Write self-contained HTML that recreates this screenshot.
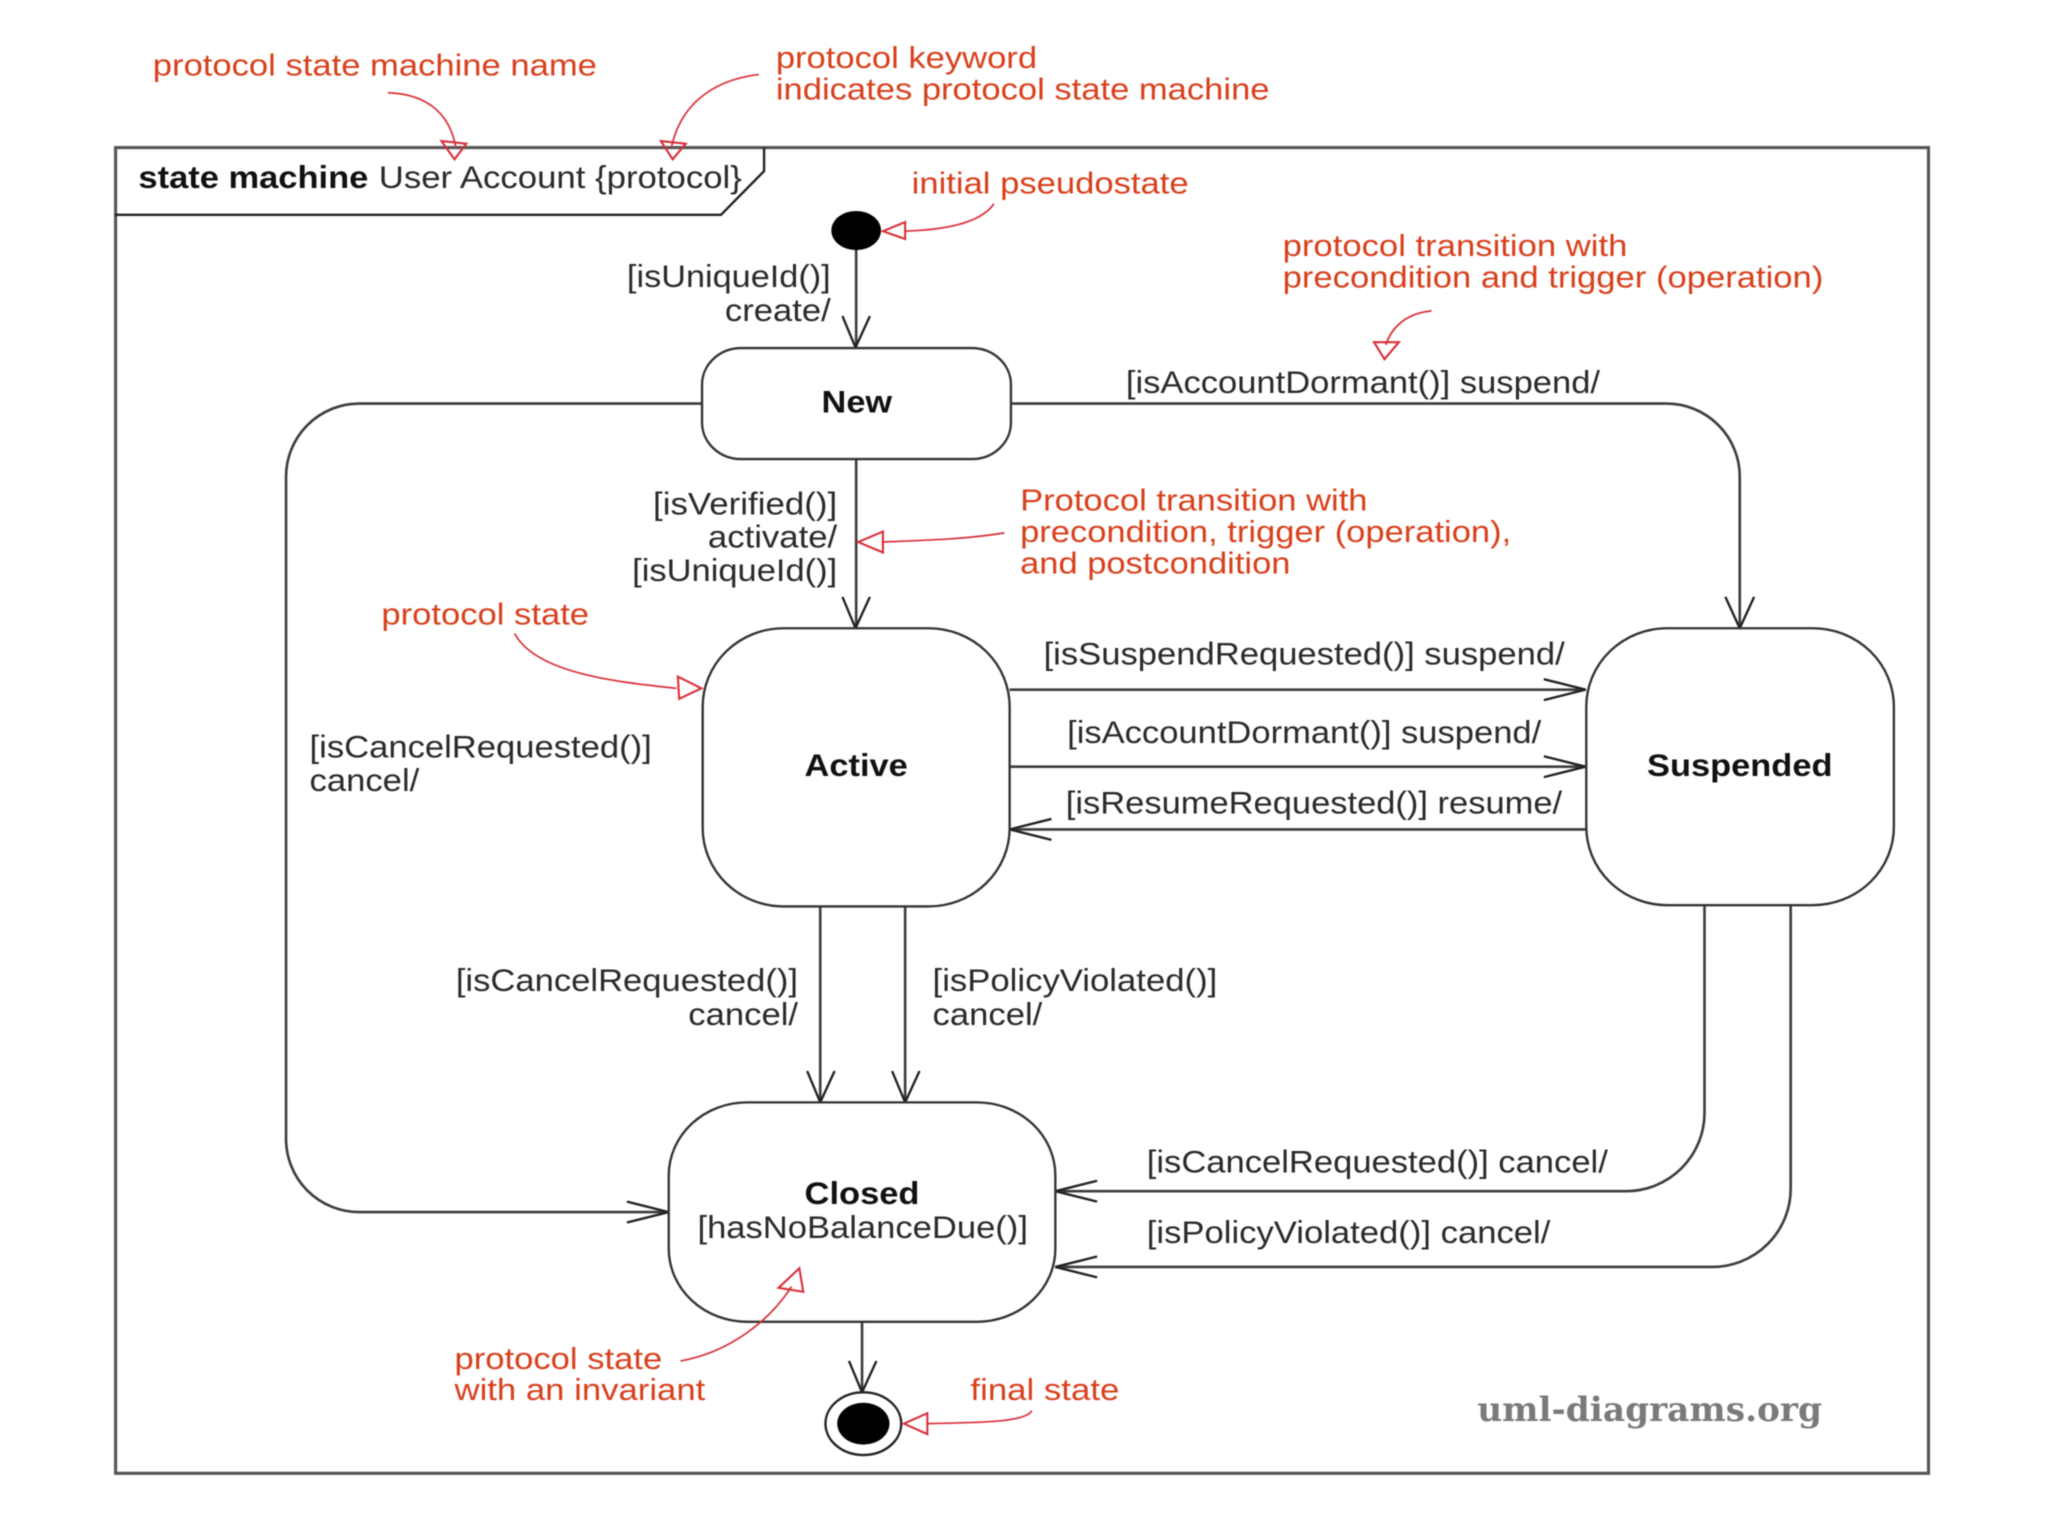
<!DOCTYPE html>
<html><head><meta charset="utf-8"><style>
html,body{margin:0;padding:0;background:#fff}
svg{display:block;filter:blur(0.6px)}
text{font-family:"Liberation Sans",sans-serif;font-size:24px;fill:#2a2a2a}
.r text,text.r{fill:#d8401c;font-size:23.5px}
.b{font-weight:bold;fill:#111}
.l{fill:none;stroke:#3c3c3c;stroke-width:2}
.a{fill:none;stroke:#222;stroke-width:1.8}
.s{fill:#fff;stroke:#333;stroke-width:1.8}
.c{fill:none;stroke:#d8303a;stroke-width:1.3}
.t{fill:none;stroke:#d8303a;stroke-width:1.6}
</style></head><body>
<svg width="2048" height="1536" viewBox="0 0 1568 1176" xmlns="http://www.w3.org/2000/svg">
<rect width="1568" height="1176" fill="#fff"/>
<rect x="88.500" y="113" width="1388" height="1015" fill="none" stroke="#555" stroke-width="2.400"/>
<path class="a" d="M88 164.500H552L585 131V113"/>
<!-- connectors -->
<path class="l" d="M655.500 191V266M655.500 352V481M537 309H275A56 56 0 0 0 219 365V872A56 56 0 0 0 275 928H512M774 309H1276A56 56 0 0 1 1332 365V481M773 528H1214M773 587H1214M1214 635H773M628 694V844M693 694V844M1305 693V852A60 60 0 0 1 1245 912H808M1371 693V910A60 60 0 0 1 1311 970H808M660 1012V1066"/>
<!-- arrowheads -->
<path class="a" d="M645 242L655 266L666 242M645 457L655 481L666 457M1321 457L1332 481L1343 457M618 820L628 844L639 820M683 820L693 844L704 820M650 1042L660 1066L671 1042M480 920L512 928L480 936M1182 520L1214 528L1182 536M1182 579L1214 587L1182 595M805 627L773 635L805 643M840 904L808 912L840 920M840 962L808 970L840 978"/>
<!-- states -->
<rect class="s" x="537.500" y="266.500" width="236.500" height="85" rx="30" ry="28"/>
<rect class="s" x="538" y="481" width="235" height="213" rx="62" ry="60"/>
<rect class="s" x="1214.500" y="481" width="235.500" height="212" rx="62" ry="60"/>
<rect class="s" x="512" y="844" width="296" height="168" rx="60" ry="56"/>
<ellipse cx="655.500" cy="176.500" rx="19" ry="15" fill="#000"/>
<ellipse cx="661" cy="1090" rx="29" ry="24" fill="#fff" stroke="#222" stroke-width="1.800"/>
<ellipse cx="661" cy="1090" rx="20" ry="16" fill="#000"/>
<!-- red callouts -->
<path class="c" d="M297 71C330 72 345 90 349 113M581 57C540 62 520 85 514 113M761 156C750 172 720 176 693 177M1096 238C1075 240 1065 252 1061 264M769 408C740 413 700 414 675 415M394 485C410 515 470 522 518 527M521 1042C560 1035 590 1010 606 985M790 1080C785 1090 740 1089 710 1090"/>
<path class="t" d="M338 108L357 110L348 122ZM506 108L525 110L515 122ZM676 177L693 170L693 183ZM1052 262L1071 262L1060 275ZM657 415L676 407L676 423ZM537 527L519 518L520 535ZM612 971L596 986L615 989ZM692 1090L710 1082L710 1098Z"/>
<!-- black labels -->
<text class="b" x="106" y="144" textLength="176" lengthAdjust="spacingAndGlyphs">state machine</text>
<text x="290" y="144" textLength="278" lengthAdjust="spacingAndGlyphs">User Account {protocol}</text>
<text x="480" y="219.800" textLength="156" lengthAdjust="spacingAndGlyphs">[isUniqueId()]</text>
<text x="555" y="245.800" textLength="81" lengthAdjust="spacingAndGlyphs">create/</text>
<text class="b" x="629" y="315.800" textLength="54" lengthAdjust="spacingAndGlyphs">New</text>
<text x="862" y="300.800" textLength="363" lengthAdjust="spacingAndGlyphs">[isAccountDormant()] suspend/</text>
<text x="500" y="393.800" textLength="141" lengthAdjust="spacingAndGlyphs">[isVerified()]</text>
<text x="542" y="419" textLength="99" lengthAdjust="spacingAndGlyphs">activate/</text>
<text x="484" y="444.800" textLength="157" lengthAdjust="spacingAndGlyphs">[isUniqueId()]</text>
<text x="237" y="579.800" textLength="262" lengthAdjust="spacingAndGlyphs">[isCancelRequested()]</text>
<text x="237" y="605.800" textLength="84" lengthAdjust="spacingAndGlyphs">cancel/</text>
<text class="b" x="616" y="594" textLength="79" lengthAdjust="spacingAndGlyphs">Active</text>
<text class="b" x="1261" y="594" textLength="142" lengthAdjust="spacingAndGlyphs">Suspended</text>
<text x="799" y="508.800" textLength="399" lengthAdjust="spacingAndGlyphs">[isSuspendRequested()] suspend/</text>
<text x="817" y="568.800" textLength="363" lengthAdjust="spacingAndGlyphs">[isAccountDormant()] suspend/</text>
<text x="816" y="622.800" textLength="380" lengthAdjust="spacingAndGlyphs">[isResumeRequested()] resume/</text>
<text x="349" y="758.800" textLength="262" lengthAdjust="spacingAndGlyphs">[isCancelRequested()]</text>
<text x="527" y="784.800" textLength="84" lengthAdjust="spacingAndGlyphs">cancel/</text>
<text x="714" y="758.800" textLength="218" lengthAdjust="spacingAndGlyphs">[isPolicyViolated()]</text>
<text x="714" y="784.800" textLength="84" lengthAdjust="spacingAndGlyphs">cancel/</text>
<text x="878" y="897.800" textLength="353" lengthAdjust="spacingAndGlyphs">[isCancelRequested()] cancel/</text>
<text x="878" y="951.800" textLength="309" lengthAdjust="spacingAndGlyphs">[isPolicyViolated()] cancel/</text>
<text class="b" x="616" y="921.800" textLength="88" lengthAdjust="spacingAndGlyphs">Closed</text>
<text x="534" y="947.800" textLength="253" lengthAdjust="spacingAndGlyphs">[hasNoBalanceDue()]</text>
<!-- red labels -->
<g class="r">
<text x="117" y="57.800" textLength="340" lengthAdjust="spacingAndGlyphs">protocol state machine name</text>
<text x="594" y="52" textLength="200" lengthAdjust="spacingAndGlyphs">protocol keyword</text>
<text x="594" y="76" textLength="378" lengthAdjust="spacingAndGlyphs">indicates protocol state machine</text>
<text x="698" y="148" textLength="212" lengthAdjust="spacingAndGlyphs">initial pseudostate</text>
<text x="982" y="196" textLength="264" lengthAdjust="spacingAndGlyphs">protocol transition with</text>
<text x="982" y="220" textLength="414" lengthAdjust="spacingAndGlyphs">precondition and trigger (operation)</text>
<text x="781" y="391" textLength="266" lengthAdjust="spacingAndGlyphs">Protocol transition with</text>
<text x="781" y="415" textLength="376" lengthAdjust="spacingAndGlyphs">precondition, trigger (operation),</text>
<text x="781" y="439" textLength="207" lengthAdjust="spacingAndGlyphs">and postcondition</text>
<text x="292" y="478" textLength="159" lengthAdjust="spacingAndGlyphs">protocol state</text>
<text x="348" y="1048" textLength="159" lengthAdjust="spacingAndGlyphs">protocol state</text>
<text x="348" y="1072" textLength="192" lengthAdjust="spacingAndGlyphs">with an invariant</text>
<text x="743" y="1072" textLength="114" lengthAdjust="spacingAndGlyphs">final state</text>
</g>
<text x="1131" y="1088" textLength="264" lengthAdjust="spacingAndGlyphs" style="font-family:'DejaVu Serif','Liberation Serif',serif;font-weight:bold;font-size:26px;fill:#7a7a7a">uml-diagrams.org</text>
</svg>
</body></html>
